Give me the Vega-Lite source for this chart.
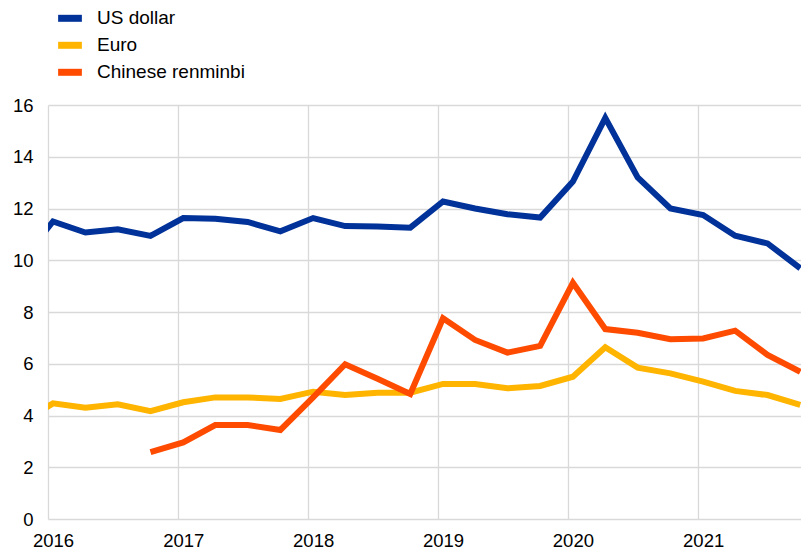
{
  "$schema": "https://vega.github.io/schema/vega-lite/v6.json",
  "width": 753,
  "height": 414,
  "autosize": {"type": "none"},
  "padding": {"left": 48, "top": 105, "right": 0, "bottom": 31},
  "background": "white",
  "config": {
    "view": {"stroke": null},
    "font": "Liberation Sans",
    "axis": {"gridColor": "#d9d9d9", "gridWidth": 1.3, "domain": false, "ticks": false, "labelColor": "#000000", "labelFontSize": 18.5, "labelFont": "Liberation Sans", "title": null}
  },
  "data": {
    "values": [
      {"date": "2015-10-15", "series": "US dollar", "value": 9.9},
      {"date": "2016-01-15", "series": "US dollar", "value": 11.5},
      {"date": "2016-04-15", "series": "US dollar", "value": 11.07},
      {"date": "2016-07-15", "series": "US dollar", "value": 11.2},
      {"date": "2016-10-15", "series": "US dollar", "value": 10.94},
      {"date": "2017-01-15", "series": "US dollar", "value": 11.63},
      {"date": "2017-04-15", "series": "US dollar", "value": 11.6},
      {"date": "2017-07-15", "series": "US dollar", "value": 11.48},
      {"date": "2017-10-15", "series": "US dollar", "value": 11.12},
      {"date": "2018-01-15", "series": "US dollar", "value": 11.63},
      {"date": "2018-04-15", "series": "US dollar", "value": 11.32},
      {"date": "2018-07-15", "series": "US dollar", "value": 11.3},
      {"date": "2018-10-15", "series": "US dollar", "value": 11.26},
      {"date": "2019-01-15", "series": "US dollar", "value": 12.27},
      {"date": "2019-04-15", "series": "US dollar", "value": 12.0},
      {"date": "2019-07-15", "series": "US dollar", "value": 11.78},
      {"date": "2019-10-15", "series": "US dollar", "value": 11.65},
      {"date": "2020-01-15", "series": "US dollar", "value": 13.04},
      {"date": "2020-04-15", "series": "US dollar", "value": 15.5},
      {"date": "2020-07-15", "series": "US dollar", "value": 13.2},
      {"date": "2020-10-15", "series": "US dollar", "value": 12.0},
      {"date": "2021-01-15", "series": "US dollar", "value": 11.75},
      {"date": "2021-04-15", "series": "US dollar", "value": 10.95},
      {"date": "2021-07-15", "series": "US dollar", "value": 10.65},
      {"date": "2021-10-15", "series": "US dollar", "value": 9.69},
      {"date": "2015-10-15", "series": "Euro", "value": 3.7},
      {"date": "2016-01-15", "series": "Euro", "value": 4.47},
      {"date": "2016-04-15", "series": "Euro", "value": 4.3},
      {"date": "2016-07-15", "series": "Euro", "value": 4.43},
      {"date": "2016-10-15", "series": "Euro", "value": 4.17},
      {"date": "2017-01-15", "series": "Euro", "value": 4.51},
      {"date": "2017-04-15", "series": "Euro", "value": 4.7},
      {"date": "2017-07-15", "series": "Euro", "value": 4.7},
      {"date": "2017-10-15", "series": "Euro", "value": 4.64},
      {"date": "2018-01-15", "series": "Euro", "value": 4.92},
      {"date": "2018-04-15", "series": "Euro", "value": 4.79},
      {"date": "2018-07-15", "series": "Euro", "value": 4.88},
      {"date": "2018-10-15", "series": "Euro", "value": 4.88},
      {"date": "2019-01-15", "series": "Euro", "value": 5.22},
      {"date": "2019-04-15", "series": "Euro", "value": 5.22},
      {"date": "2019-07-15", "series": "Euro", "value": 5.05},
      {"date": "2019-10-15", "series": "Euro", "value": 5.14},
      {"date": "2020-01-15", "series": "Euro", "value": 5.5},
      {"date": "2020-04-15", "series": "Euro", "value": 6.64},
      {"date": "2020-07-15", "series": "Euro", "value": 5.85},
      {"date": "2020-10-15", "series": "Euro", "value": 5.63},
      {"date": "2021-01-15", "series": "Euro", "value": 5.31},
      {"date": "2021-04-15", "series": "Euro", "value": 4.95},
      {"date": "2021-07-15", "series": "Euro", "value": 4.79},
      {"date": "2021-10-15", "series": "Euro", "value": 4.41},
      {"date": "2016-10-15", "series": "Chinese renminbi", "value": 2.58},
      {"date": "2017-01-15", "series": "Chinese renminbi", "value": 2.96},
      {"date": "2017-04-15", "series": "Chinese renminbi", "value": 3.63},
      {"date": "2017-07-15", "series": "Chinese renminbi", "value": 3.63},
      {"date": "2017-10-15", "series": "Chinese renminbi", "value": 3.44},
      {"date": "2018-01-15", "series": "Chinese renminbi", "value": 4.7},
      {"date": "2018-04-15", "series": "Chinese renminbi", "value": 5.98},
      {"date": "2018-07-15", "series": "Chinese renminbi", "value": 5.42},
      {"date": "2018-10-15", "series": "Chinese renminbi", "value": 4.83},
      {"date": "2019-01-15", "series": "Chinese renminbi", "value": 7.76},
      {"date": "2019-04-15", "series": "Chinese renminbi", "value": 6.92},
      {"date": "2019-07-15", "series": "Chinese renminbi", "value": 6.43},
      {"date": "2019-10-15", "series": "Chinese renminbi", "value": 6.69},
      {"date": "2020-01-15", "series": "Chinese renminbi", "value": 9.13},
      {"date": "2020-04-15", "series": "Chinese renminbi", "value": 7.34},
      {"date": "2020-07-15", "series": "Chinese renminbi", "value": 7.2},
      {"date": "2020-10-15", "series": "Chinese renminbi", "value": 6.95},
      {"date": "2021-01-15", "series": "Chinese renminbi", "value": 6.98},
      {"date": "2021-04-15", "series": "Chinese renminbi", "value": 7.28},
      {"date": "2021-07-15", "series": "Chinese renminbi", "value": 6.34},
      {"date": "2021-10-15", "series": "Chinese renminbi", "value": 5.69}
    ]
  },
  "mark": {"type": "line", "strokeWidth": 6, "clip": true, "strokeJoin": "miter", "strokeCap": "butt"},
  "encoding": {
    "x": {
      "field": "date",
      "type": "temporal",
      "scale": {"type": "utc", "domain": [{"year": 2016, "month": 1, "date": 1, "utc": true}, {"year": 2021, "month": 10, "date": 17, "utc": true}]},
      "axis": {
        "values": [
          {"year": 2016, "month": 1, "date": 1, "utc": true},
          {"year": 2017, "month": 1, "date": 1, "utc": true},
          {"year": 2018, "month": 1, "date": 1, "utc": true},
          {"year": 2019, "month": 1, "date": 1, "utc": true},
          {"year": 2020, "month": 1, "date": 1, "utc": true},
          {"year": 2021, "month": 1, "date": 1, "utc": true}
        ],
        "format": "%Y",
        "labelOffset": 5,
        "labelPadding": 12,
        "labelFlush": false,
        "labelOverlap": false
      }
    },
    "y": {
      "field": "value",
      "type": "quantitative",
      "scale": {"domain": [0, 16], "nice": false},
      "axis": {"values": [0, 2, 4, 6, 8, 10, 12, 14, 16], "labelPadding": 15}
    },
    "color": {
      "field": "series",
      "type": "nominal",
      "scale": {"domain": ["US dollar", "Euro", "Chinese renminbi"], "range": ["#003299", "#ffb400", "#ff4b00"]},
      "legend": {
        "title": null,
        "orient": "none",
        "legendX": 9,
        "legendY": -99.7,
        "padding": 0,
        "symbolType": "M-1.25,0H1.25",
        "symbolSize": 361,
        "symbolStrokeWidth": 7,
        "labelFontSize": 19,
        "labelFont": "Liberation Sans",
        "labelColor": "#000000",
        "labelOffset": 14,
        "rowPadding": -2
      }
    }
  }
}
